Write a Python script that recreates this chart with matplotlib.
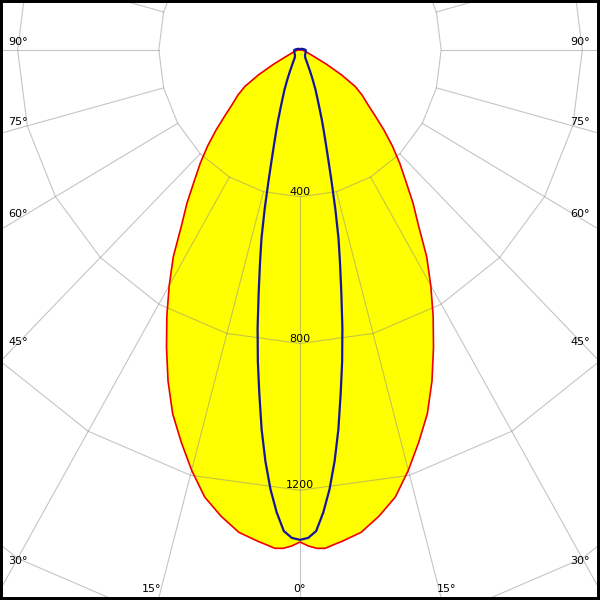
import numpy as np
import matplotlib.pyplot as plt

# C0-C180 plane (red outline, yellow fill), gamma in degrees, cd
gamma_c0 = [0, 1, 2, 3, 4, 5, 7.5, 10, 12.5, 15, 17.5, 20, 22.5, 25, 27.5, 30,
            32.5, 35, 37.5, 40, 42.5, 45, 47.5, 50, 52.5, 55, 57.5, 60, 62.5,
            65, 67.5, 70, 75, 80, 85, 90]
intensity_c0 = [1341, 1352, 1359, 1360, 1352, 1345, 1326, 1290, 1248, 1186,
                1120, 1055, 977, 895, 817, 741, 668, 586, 526, 466, 418, 370,
                322, 276, 240, 215, 185, 135, 85, 48, 32, 24, 16, 10, 6, 3]

# C90-C270 plane (blue line)
gamma_c90 = [0, 1, 2, 3, 4, 5, 6, 7, 8, 9, 10, 11, 12, 13, 14, 15, 16, 17, 18,
             19, 20, 22, 24, 26, 28, 30, 35, 40, 50, 60, 70, 80, 90, 100, 120,
             150, 180]
intensity_c90 = [1335, 1330, 1312, 1262, 1200, 1125, 1040, 945, 858, 768, 675,
                 595, 525, 445, 370, 310, 265, 230, 200, 172, 150, 118, 88, 66,
                 50, 40, 26, 22, 19, 18, 17, 17, 16, 11, 6, 3, 2]

ring_values = [400, 800, 1200, 1600]
ring_labels = ['400', '800', '1200']
side_labels = ['90°', '75°', '60°', '45°', '30°']
bottom_labels = ['15°', '0°', '15°']


def to_xy(gamma, inten, side):
    g = np.deg2rad(np.asarray(gamma, dtype=float))
    r = np.asarray(inten, dtype=float)
    return side * r * np.sin(g), -r * np.cos(g)


fig = plt.figure(figsize=(6, 6), dpi=100)
ax = fig.add_axes([0, 0, 1, 1])

# yellow area + red outline (C180 on the left, C0 on the right)
xl, yl = to_xy(gamma_c0, intensity_c0, -1)
xr, yr = to_xy(gamma_c0, intensity_c0, 1)
x_red = np.concatenate([xl[::-1], xr[1:]])
y_red = np.concatenate([yl[::-1], yr[1:]])
ax.fill(x_red, y_red, color='#ffff00', lw=0, zorder=1)

# grid: polygonal rings and radial spokes every 15 degrees
grid_kw = dict(color='#8c8c8c', alpha=0.5, lw=0.8, zorder=2)
poly = np.deg2rad(np.arange(0, 361, 15))
for r in ring_values:
    ax.plot(r * np.sin(poly), -r * np.cos(poly), **grid_kw)
for a in np.deg2rad(np.arange(0, 360, 15)):
    ax.plot([400 * np.sin(a), 2500 * np.sin(a)],
            [-400 * np.cos(a), -2500 * np.cos(a)], **grid_kw)

ax.plot(x_red, y_red, color='#ee0000', lw=1.2, zorder=3)

bl, bly = to_xy(gamma_c90, intensity_c90, -1)
br, bry = to_xy(gamma_c90, intensity_c90, 1)
ax.plot(np.concatenate([bl[::-1], br[1:]]), np.concatenate([bly[::-1], bry[1:]]),
        color='#14149c', lw=1.6, zorder=4)

# intensity labels on the 0 deg axis
for r, lab in zip(ring_values, ring_labels):
    ax.annotate(lab, (0, -r), xytext=(0, 3.5), textcoords='offset points',
                ha='center', va='center', fontsize=8, zorder=5)

# angle labels (figure is 600 px, positions in axes fraction)
side_y = [42, 122, 214, 342, 561]
for lab, py in zip(side_labels, side_y):
    ax.text(18 / 600, 1 - py / 600, lab, transform=ax.transAxes,
            ha='center', va='center', fontsize=8, zorder=5)
    ax.text(580 / 600, 1 - py / 600, lab, transform=ax.transAxes,
            ha='center', va='center', fontsize=8, zorder=5)
for lab, px in zip(bottom_labels, [152, 299, 447]):
    ax.text(px / 600, 1 - 589 / 600, lab, transform=ax.transAxes,
            ha='center', va='center', fontsize=8, zorder=5)

ax.set_xlim(-850, 850)
ax.set_ylim(-1499, 136)
ax.set_xticks([])
ax.set_yticks([])
for s in ax.spines.values():
    s.set_linewidth(4.3)
    s.set_color('black')

fig.savefig('out.png', dpi=100)
